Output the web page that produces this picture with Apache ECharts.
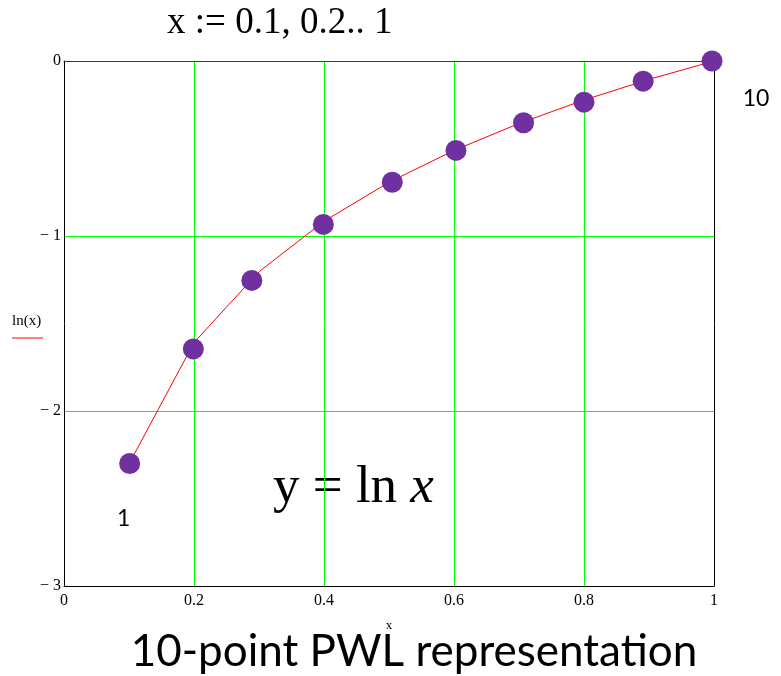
<!DOCTYPE html>
<html>
<head>
<meta charset="utf-8">
<script src="https://cdn.jsdelivr.net/npm/echarts@6/dist/echarts.min.js"></script>
<style>
  html, body { margin: 0; padding: 0; background: #fff; }
  #chart { width: 781px; height: 676px; }
</style>
</head>
<body>
<div id="chart"></div>
<script>
// Sample points x = 0.1, 0.2 .. 1 and ln(x) at each of them (the PWL curve)
const xSamples = [0.1, 0.2, 0.3, 0.4, 0.5, 0.6, 0.7, 0.8, 0.9, 1.0];
const lnValues = [-2.303, -1.609, -1.204, -0.916, -0.693, -0.511, -0.357, -0.223, -0.105, 0];

// Marker dots placed on the curve
const dotX = [0.101, 0.199, 0.289, 0.399, 0.505, 0.603, 0.707, 0.800, 0.891, 0.997];
const dotY = [-2.30, -1.645, -1.254, -0.934, -0.693, -0.511, -0.353, -0.235, -0.115, 0];

// Axis ticks
const xTicks = [0, 0.2, 0.4, 0.6, 0.8, 1];
const yTicks = [-3, -2, -1, 0];

const serif = '"Liberation Serif", "DejaVu Serif", serif';
const sans = 'Lato, "Noto Sans", sans-serif';
const GREEN = '#00ff00';

const chart = echarts.init(document.getElementById('chart'), null, { renderer: 'canvas' });

const curve = xSamples.map((x, i) => [x, lnValues[i]]);
const dots = dotX.map((x, i) => {
  const item = { value: [x, dotY[i]] };
  if (i === 0) {
    item.label = { show: true, formatter: '1', offset: [-6, 55] };
  } else if (i === dotX.length - 1) {
    item.label = { show: true, formatter: '10', offset: [44, 38] };
  }
  return item;
});

const xMin = xTicks[0], xMax = xTicks[xTicks.length - 1];
const yMin = yTicks[0], yMax = yTicks[yTicks.length - 1];

chart.setOption({
  animation: false,
  backgroundColor: '#ffffff',
  grid: {
    left: 64, top: 61, width: 650, height: 525,
    show: false
  },
  xAxis: [
    {
      type: 'value',
      min: xMin, max: xMax, interval: 0.2,
      axisLine: { show: true, onZero: false, lineStyle: { color: '#000', width: 1 } },
      axisTick: { show: false },
      axisLabel: {
        color: '#000', fontFamily: serif, fontSize: 16, margin: 7,
        formatter: v => (v === 0 || v === 1) ? String(v) : v.toFixed(1)
      },
      splitLine: {
        show: true, showMinLine: false, showMaxLine: false,
        lineStyle: { color: GREEN, width: 1 }
      },
      name: 'x', nameLocation: 'middle', nameGap: 33,
      nameTextStyle: { color: '#000', fontFamily: serif, fontSize: 13 },
      z: 2
    },
    {
      // top edge of the plot frame
      type: 'value', position: 'top',
      min: xMin, max: xMax, interval: 0.2,
      axisLine: { show: true, onZero: false, lineStyle: { color: '#1f4d1f', width: 1 } },
      axisTick: { show: false }, axisLabel: { show: false }, splitLine: { show: false },
      z: 3
    }
  ],
  yAxis: [
    {
      type: 'value',
      min: yMin, max: yMax, interval: 1,
      axisLine: { show: true, onZero: false, lineStyle: { color: '#000', width: 1 } },
      axisTick: { show: false },
      axisLabel: {
        color: '#000', fontFamily: serif, fontSize: 16, margin: 3,
        formatter: v => v === 0 ? '0' : '\u2212 ' + Math.abs(v)
      },
      splitLine: {
        show: true, showMinLine: false, showMaxLine: false,
        lineStyle: { color: GREEN, width: 1 }
      },
      z: 2
    },
    {
      // right edge of the plot frame
      type: 'value', position: 'right',
      min: yMin, max: yMax, interval: 1,
      axisLine: { show: true, onZero: false, lineStyle: { color: '#000', width: 1 } },
      axisTick: { show: false }, axisLabel: { show: false }, splitLine: { show: false },
      z: 3
    }
  ],
  graphic: [
    {
      type: 'text', x: 167, y: 5,
      style: { text: 'x := 0.1, 0.2.. 1', font: '37px ' + serif, fill: '#000' }
    },
    {
      type: 'text', x: 12, y: 314,
      style: { text: 'ln(x)', font: '15px ' + serif, fill: '#000' }
    },
    {
      type: 'line', shape: { x1: 12, y1: 338, x2: 43, y2: 338 },
      style: { stroke: '#ff0000', lineWidth: 1 }
    },
    {
      type: 'text', x: 273, y: 462,
      style: {
        text: '{n|y = ln }{i|x}',
        rich: {
          n: { font: '53px ' + serif, fill: '#000' },
          i: { font: 'italic 53px ' + serif, fill: '#000' }
        }
      }
    },
    {
      type: 'text', x: 414, y: 630,
      style: { text: '10-point PWL representation', font: '44px ' + sans, fill: '#000', align: 'center' }
    }
  ],
  series: [
    {
      name: 'ln(x)',
      type: 'line',
      data: curve,
      symbol: 'none',
      lineStyle: { color: '#ff0000', width: 1 },
      z: 3
    },
    {
      name: 'points',
      type: 'scatter',
      data: dots,
      symbol: 'circle',
      symbolSize: 21,
      itemStyle: { color: '#7030a0', opacity: 1 },
      label: { color: '#000', fontFamily: sans, fontSize: 23, position: 'inside' },
      z: 4
    }
  ]
});
</script>
</body>
</html>
